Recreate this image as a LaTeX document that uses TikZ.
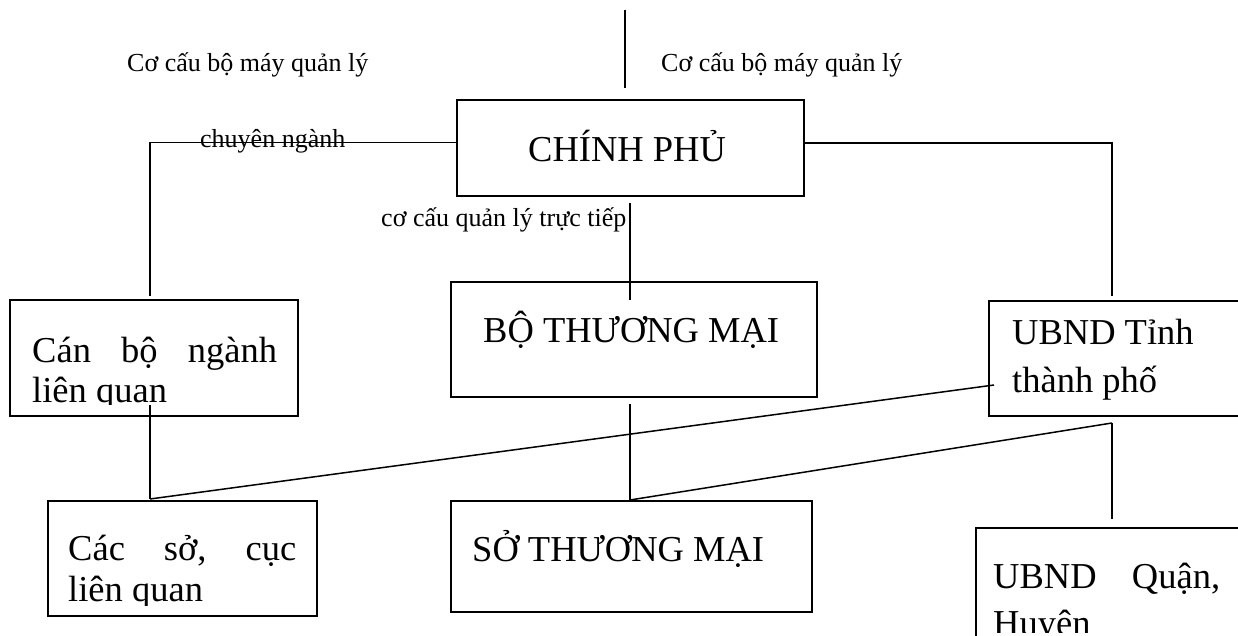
\documentclass[tikz,border=0pt]{standalone}
\usepackage{fontspec}
\setmainfont{Liberation Serif}
\begin{document}
\begin{tikzpicture}[x=1pt,y=-1pt,
  box/.style={draw, line width=1.6pt, rectangle, inner sep=0pt},
  link/.style={line width=1.5pt},
  big/.style={font=\fontsize{36.5}{44}\selectfont, inner sep=0pt, anchor=base west},
  small/.style={font=\fontsize{26}{30}\selectfont, inner sep=0pt, anchor=base west}]
\clip (0,0) rectangle (1238,636);

% boxes
\node[box, minimum width=347pt, minimum height=96pt]  (cp) at (630.5,148) {};
\node[box, minimum width=366pt, minimum height=115pt] (bo) at (634,339.5) {};
\node[box, minimum width=288pt, minimum height=116pt] (cb) at (154,358) {};
\node[box, minimum width=256pt, minimum height=115pt] (ub) at (1117,358.5) {};
\node[box, minimum width=269pt, minimum height=115pt] (cs) at (182.5,558.5) {};
\node[box, minimum width=361pt, minimum height=111pt] (so) at (631.5,556.5) {};
\node[box, minimum width=269pt, minimum height=152pt] (uq) at (1110.5,604) {};

% connector points
\coordinate (topA) at (625,10);
\coordinate (topB) at (625,88);
\coordinate (cpW) at (457,142.7);
\coordinate (cbUp) at (150,296);
\coordinate (cpE) at (804,143);
\coordinate (ubUp) at (1112,296);
\coordinate (boUpA) at (630,203);
\coordinate (boUpB) at (630,300);
\coordinate (cbDn) at (150,405);
\coordinate (csTop) at (150,499);
\coordinate (ubL) at (994,385);
\coordinate (boDn) at (630,404);
\coordinate (soTop) at (630,500);
\coordinate (ubDn) at (1112,423);
\coordinate (uqUp) at (1112,519);

\draw[link] (topA) -- (topB);
\draw[link] (cpW) -| (cbUp);
\draw[link] (cpE) -| (ubUp);
\draw[link] (boUpA) -- (boUpB);
\draw[link] (cbDn) -- (csTop);
\draw[link] (ubL) -- (csTop);
\draw[link] (boDn) -- (soTop);
\draw[link] (ubDn) -- (soTop);
\draw[link] (ubDn) -- (uqUp);

% labels
\node[small] (lblL) at (127,72) {Cơ cấu bộ máy quản lý};
\node[small] (lblR) at (661,72) {Cơ cấu bộ máy quản lý};
\node[small] (lblCN) at (200,148) {chuyên ngành};
\node[small] (lblTT) at (381,226) {cơ cấu quản lý trực tiếp};

% box texts
\node[big] (tcp) at (528,162) {CHÍNH PHỦ};
\node[big] (tbo) at (483,342) {BỘ THƯƠNG MẠI};
\node[big] (tso) at (472,561) {SỞ THƯƠNG MẠI};
\node[big] (tcb1) at (32,362) {\makebox[245pt][s]{Cán\hfill bộ\hfill ngành}};
\node[big] (tub1) at (1012,344) {UBND Tỉnh};
\node[big] (tub2) at (1012,392) {thành phố};
\node[big] (tcs1) at (68,560) {\makebox[228pt][s]{Các\hfill sở,\hfill cục}};
\node[big] (tuq1) at (993,588) {\makebox[227pt][s]{UBND\hfill Quận,}};
\begin{scope}
  \clip (0,0) rectangle (1238,404);
  \node[big] (tcb2) at (32,402) {liên quan};
\end{scope}
\begin{scope}
  \clip (0,0) rectangle (1238,605);
  \node[big] (tcs2) at (68,601) {liên quan};
\end{scope}
\begin{scope}
  \clip (0,0) rectangle (1238,632);
  \node[big] (tuq2) at (993,635) {Huyện};
\end{scope}
\end{tikzpicture}
\end{document}
